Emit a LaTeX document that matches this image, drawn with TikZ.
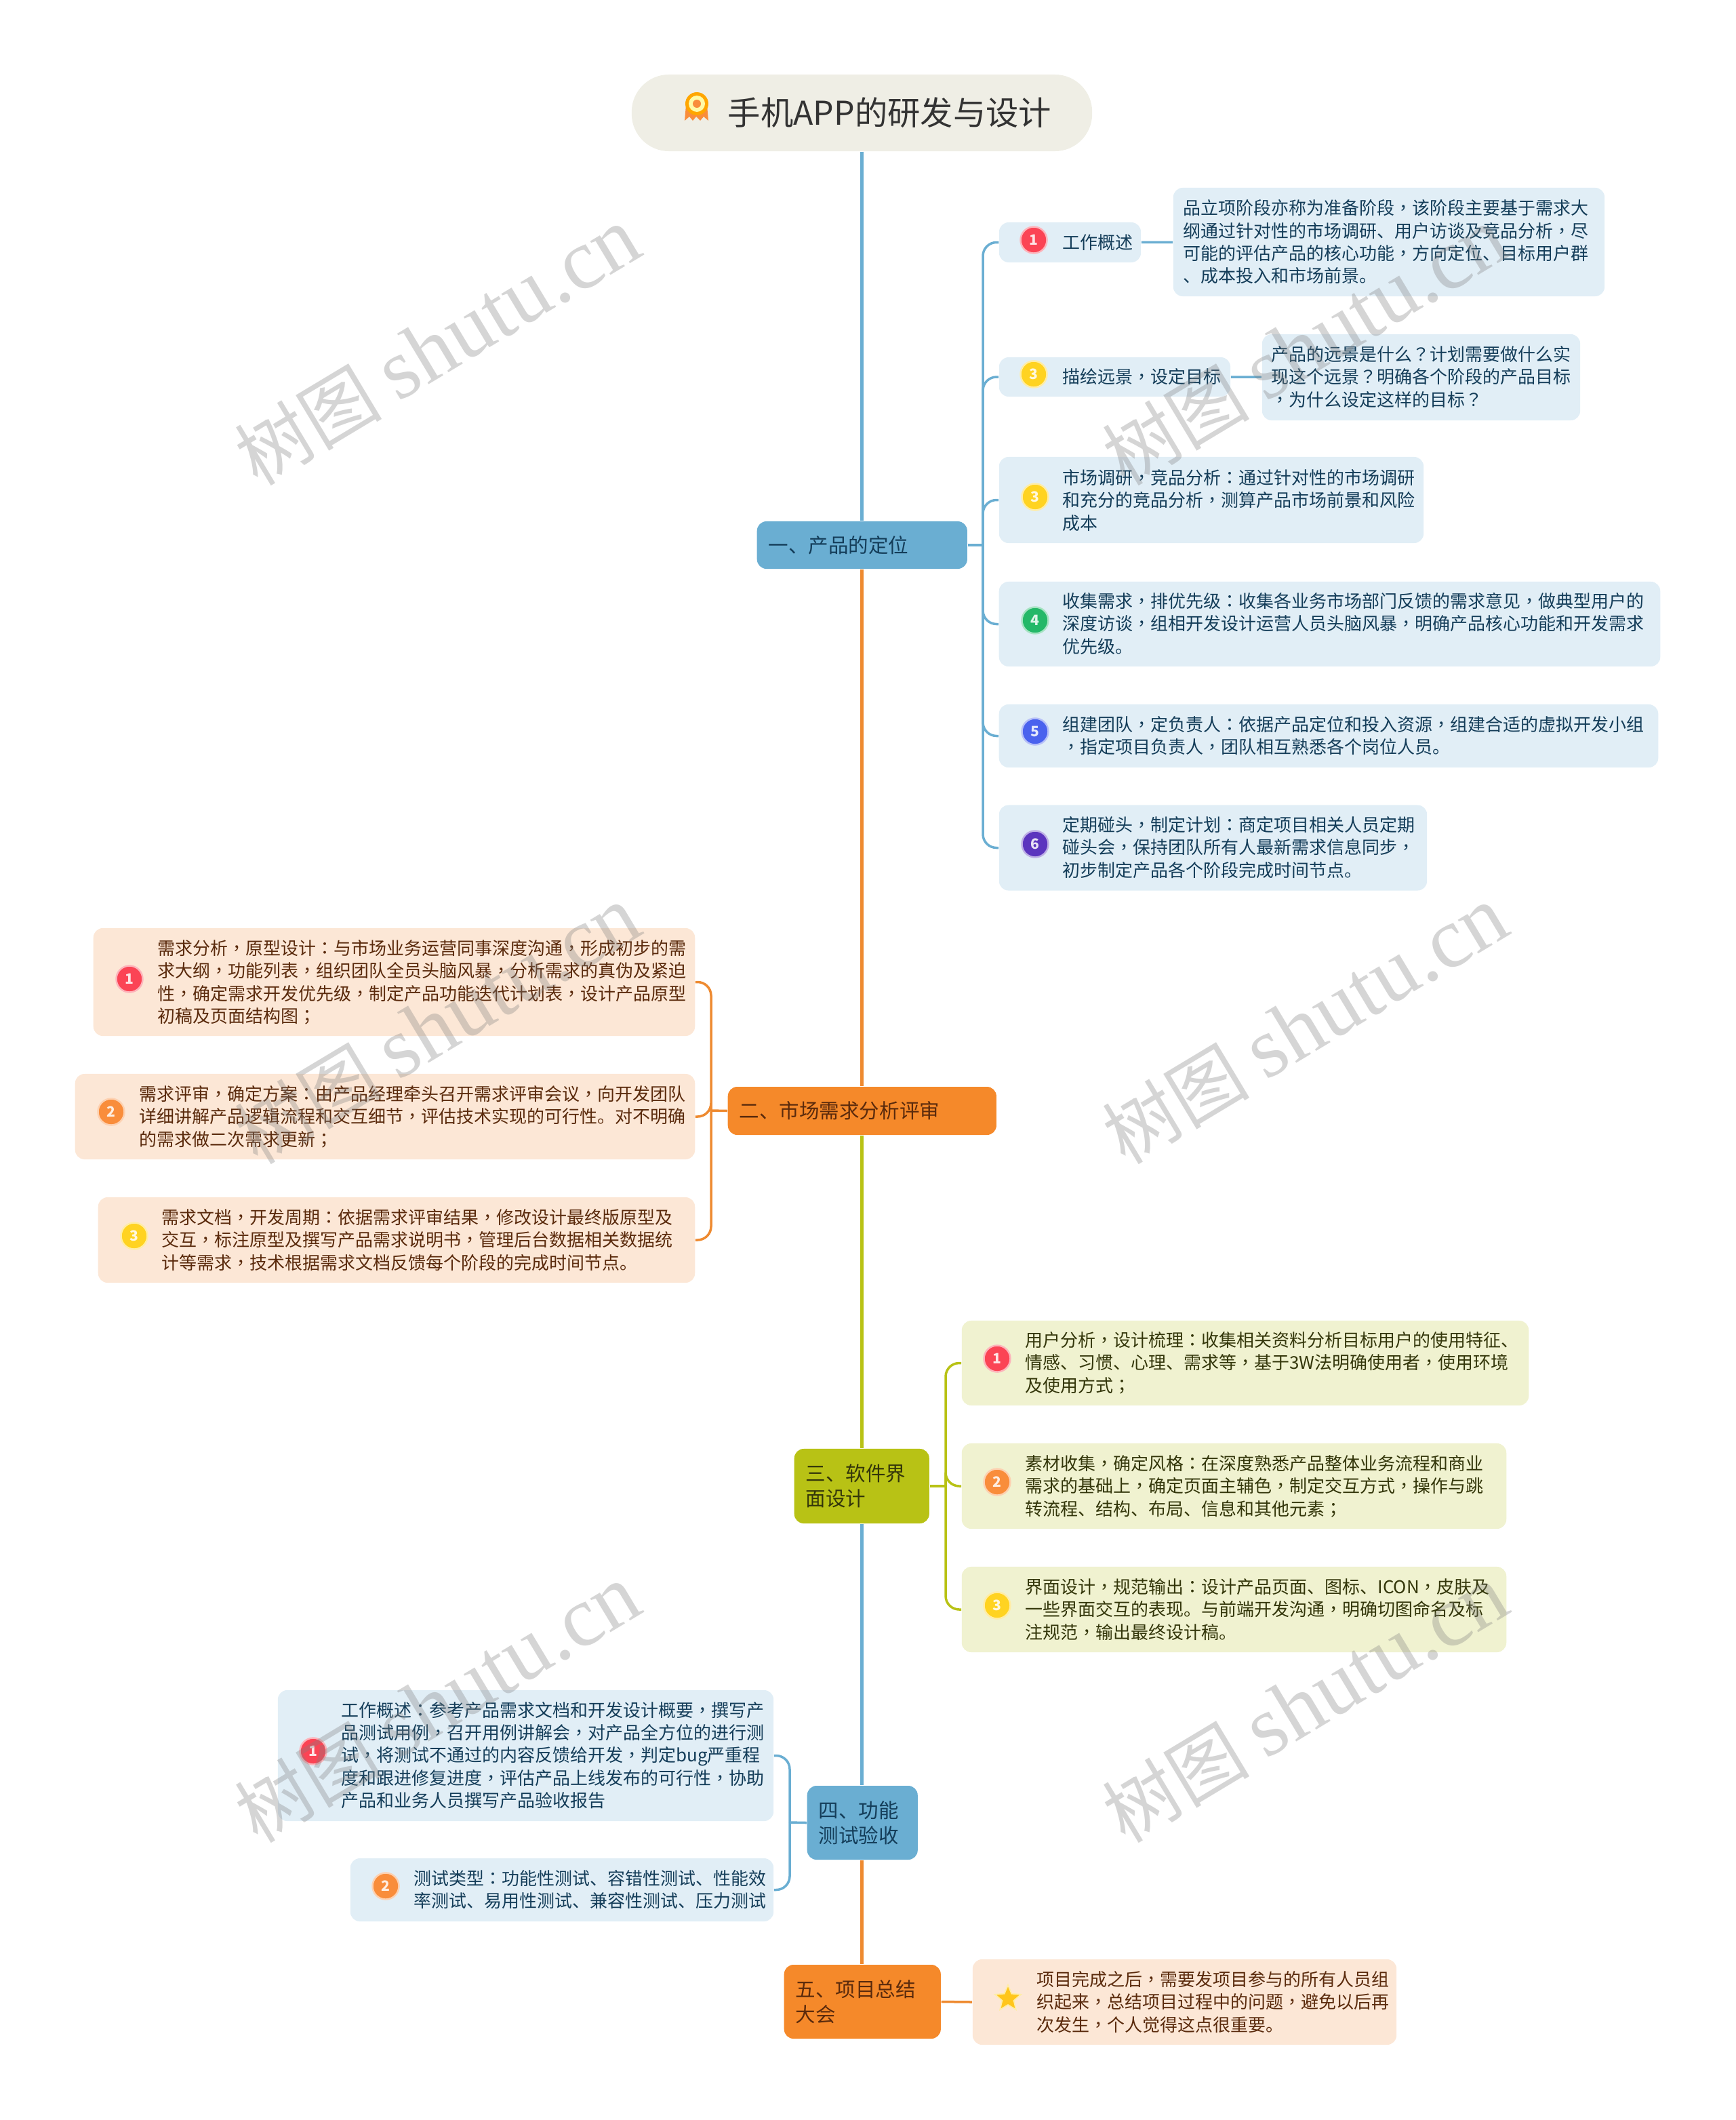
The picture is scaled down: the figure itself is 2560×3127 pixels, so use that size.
\documentclass[tikz,border=0pt]{standalone}
\usepackage{fontspec}
\setmainfont{Noto Sans CJK SC}
\newfontfamily\punctfont{Noto Sans CJK TC}
\newfontfamily\sitefont{Liberation Serif}
\catcode`，=\active \def，{{\punctfont\char"FF0C }}
\catcode`：=\active \def：{{\punctfont\char"FF1A }}
\catcode`？=\active \def？{{\punctfont\char"FF1F }}
\catcode`；=\active \def；{{\punctfont\char"FF1B }}
\usetikzlibrary{positioning, shapes.geometric}

\definecolor{titlefill}{HTML}{EFEEE5}
\definecolor{blueline}{HTML}{6AAED2}
\definecolor{orangeline}{HTML}{EE8A30}
\definecolor{oliveline}{HTML}{B8C215}
\definecolor{bluefill}{HTML}{6AAED2}
\definecolor{orangefill}{HTML}{F5892A}
\definecolor{olivefill}{HTML}{B8C215}
\definecolor{bluecard}{HTML}{E1EEF6}
\definecolor{orangecard}{HTML}{FCE7D6}
\definecolor{olivecard}{HTML}{F0F2D0}
\definecolor{bluetext}{HTML}{143D59}
\definecolor{orangetext}{HTML}{5A2A0C}
\definecolor{olivetext}{HTML}{33360A}
\definecolor{numred}{HTML}{FB4455}
\definecolor{numorange}{HTML}{F98D3B}
\definecolor{numyellow}{HTML}{FFD321}
\definecolor{numgreen}{HTML}{24B868}
\definecolor{numblue}{HTML}{4A62EE}
\definecolor{numpurple}{HTML}{5B35BE}

\begin{document}
\begin{tikzpicture}[
    x=0.01cm, y=-0.01cm,
    title/.style={rectangle, rounded corners=0.55cm, fill=titlefill, minimum width=6.79cm, minimum height=1.13cm},
    branch/.style={rectangle, rounded corners=0.14cm, anchor=west, align=left, inner xsep=0.17cm, inner ysep=0pt, font=\fontsize{8.4pt}{10.6pt}\selectfont},
    card/.style={rectangle, rounded corners=0.14cm},
    txt/.style={anchor=west, align=left, inner sep=0pt, font=\fontsize{7.39pt}{9.5pt}\selectfont},
    num/.style={circle, minimum size=0.39cm, inner sep=0pt, fill=#1, draw=#1!40, line width=0.7pt, text=white!85!#1, font=\fontsize{6pt}{7pt}\selectfont\bfseries},
    trunk/.style={line width=0.05cm},
    elbow/.style={line width=0.035cm, rounded corners=0.2cm},
    site/.style={text=gray, opacity=0.33, rotate=31, inner sep=0pt, font=\fontsize{31pt}{35pt}\selectfont}
]
\useasboundingbox (0,0) rectangle (2560,3127);

% Title
\node[title] (root) at (1271.5, 166.5) {};
\node[anchor=west, inner sep=0pt, text=black!80, font=\fontsize{13.75pt}{16pt}\selectfont] (roottxt) at (1073, 166) {手机APP的研发与设计};

% Title medal
\fill[numorange] (1012, 155) -- (1010, 178) -- (1017, 172) -- (1022, 178) -- (1027, 172) -- (1033, 178) -- (1038, 172) -- (1045, 178) -- (1043, 155) -- cycle;
\fill[orange!70!yellow] (1028, 153) circle (17);
\fill[yellow!35!white] (1028, 153) circle (12);
\fill[numorange] (1028, 153) circle (6);

% Branches
\node[branch, fill=bluefill, text=bluetext, text width=2.76cm, minimum height=0.70cm] (b1) at (1116, 804) {一、产品的定位};
\node[branch, fill=orangefill, text=orangetext, text width=3.62cm, minimum height=0.71cm] (b2) at (1073, 1638.5) {二、市场需求分析评审};
\node[branch, fill=olivefill, text=olivetext, text width=1.65cm, minimum height=1.10cm] (b3) at (1171, 2192) {三、软件界\\面设计};
\node[branch, fill=bluefill, text=bluetext, text width=1.29cm, minimum height=1.09cm] (b4) at (1190, 2688.5) {四、功能\\测试验收};
\node[branch, fill=orangefill, text=orangetext, text width=1.97cm, minimum height=1.09cm] (b5) at (1156, 2952.5) {五、项目总结\\大会};

% Main line
\draw[trunk, blueline] (root) -- (b1.north -| root);
\draw[trunk, orangeline] (b1.south -| root) -- (b2.north -| root);
\draw[trunk, oliveline] (b2.south -| root) -- (b3.north -| root);
\draw[trunk, blueline] (b3.south -| root) -- (b4.north -| root);
\draw[trunk, orangeline] (b4.south -| root) -- (b5.north -| root);

% Cards of the first branch
\node[card, fill=bluecard, minimum width=2.09cm, minimum height=0.59cm] (c1) at (1578.5, 357.5) {};
\node[txt, text=bluetext] (c1txt) at (1567, 358) {工作概述};
\node[num=numred] (c1num) at (1525, 354) {1};
\node[card, fill=bluecard, minimum width=6.36cm, minimum height=1.60cm] (c1d) at (2049, 357) {};
\node[txt, text=bluetext] (c1dtxt) at (1745, 357) {品立项阶段亦称为准备阶段，该阶段主要基于需求大\\纲通过针对性的市场调研、用户访谈及竞品分析，尽\\可能的评估产品的核心功能，方向定位、目标用户群\\、成本投入和市场前景。};

\node[card, fill=bluecard, minimum width=3.41cm, minimum height=0.58cm] (c2) at (1644.5, 556) {};
\node[txt, text=bluetext] (c2txt) at (1567, 556) {描绘远景，设定目标};
\node[num=numyellow] (c2num) at (1525, 552) {3};
\node[card, fill=bluecard, minimum width=4.69cm, minimum height=1.27cm] (c2d) at (2096.5, 556.5) {};
\node[txt, text=bluetext] (c2dtxt) at (1875, 556) {产品的远景是什么？计划需要做什么实\\现这个远景？明确各个阶段的产品目标\\，为什么设定这样的目标？};

\node[card, fill=bluecard, minimum width=6.26cm, minimum height=1.27cm] (c3) at (1787, 737.5) {};
\node[txt, text=bluetext] (c3txt) at (1567, 738) {市场调研，竞品分析：通过针对性的市场调研\\和充分的竞品分析，测算产品市场前景和风险\\成本};
\node[num=numyellow] (c3num) at (1527, 733) {3};

\node[card, fill=bluecard, minimum width=9.75cm, minimum height=1.25cm] (c4) at (1961.5, 920.5) {};
\node[txt, text=bluetext] (c4txt) at (1567, 920) {收集需求，排优先级：收集各业务市场部门反馈的需求意见，做典型用户的\\深度访谈，组相开发设计运营人员头脑风暴，明确产品核心功能和开发需求\\优先级。};
\node[num=numgreen] (c4num) at (1527, 915) {4};

\node[card, fill=bluecard, minimum width=9.72cm, minimum height=0.93cm] (c5) at (1960, 1085.5) {};
\node[txt, text=bluetext] (c5txt) at (1567, 1085) {组建团队，定负责人：依据产品定位和投入资源，组建合适的虚拟开发小组\\，指定项目负责人，团队相互熟悉各个岗位人员。};
\node[num=numblue] (c5num) at (1527, 1079) {5};

\node[card, fill=bluecard, minimum width=6.31cm, minimum height=1.26cm] (c6) at (1789.5, 1250.5) {};
\node[txt, text=bluetext] (c6txt) at (1567, 1250) {定期碰头，制定计划：商定项目相关人员定期\\碰头会，保持团队所有人最新需求信息同步，\\初步制定产品各个阶段完成时间节点。};
\node[num=numpurple] (c6num) at (1527, 1245) {6};

% Cards of the second branch
\node[card, fill=orangecard, minimum width=8.87cm, minimum height=1.59cm] (l1) at (581.5, 1448.5) {};
\node[txt, text=orangetext] (l1txt) at (232, 1449) {需求分析，原型设计：与市场业务运营同事深度沟通，形成初步的需\\求大纲，功能列表，组织团队全员头脑风暴，分析需求的真伪及紧迫\\性，确定需求开发优先级，制定产品功能迭代计划表，设计产品原型\\初稿及页面结构图；};
\node[num=numred] (l1num) at (191, 1444) {1};

\node[card, fill=orangecard, minimum width=9.14cm, minimum height=1.26cm] (l2) at (568, 1647) {};
\node[txt, text=orangetext] (l2txt) at (205, 1647) {需求评审，确定方案：由产品经理牵头召开需求评审会议，向开发团队\\详细讲解产品逻辑流程和交互细节，评估技术实现的可行性。对不明确\\的需求做二次需求更新；};
\node[num=numorange] (l2num) at (164, 1640) {2};

\node[card, fill=orangecard, minimum width=8.80cm, minimum height=1.26cm] (l3) at (585, 1829) {};
\node[txt, text=orangetext] (l3txt) at (238, 1829) {需求文档，开发周期：依据需求评审结果，修改设计最终版原型及\\交互，标注原型及撰写产品需求说明书，管理后台数据相关数据统\\计等需求，技术根据需求文档反馈每个阶段的完成时间节点。};
\node[num=numyellow] (l3num) at (198, 1823) {3};

% Cards of the third branch
\node[card, fill=olivecard, minimum width=8.36cm, minimum height=1.25cm] (d1) at (1837, 2010.5) {};
\node[txt, text=olivetext] (d1txt) at (1512, 2010) {用户分析，设计梳理：收集相关资料分析目标用户的使用特征、\\情感、习惯、心理、需求等，基于3W法明确使用者，使用环境\\及使用方式；};
\node[num=numred] (d1num) at (1471, 2004) {1};

\node[card, fill=olivecard, minimum width=8.03cm, minimum height=1.26cm] (d2) at (1820.5, 2192) {};
\node[txt, text=olivetext] (d2txt) at (1512, 2192) {素材收集，确定风格：在深度熟悉产品整体业务流程和商业\\需求的基础上，确定页面主辅色，制定交互方式，操作与跳\\转流程、结构、布局、信息和其他元素；};
\node[num=numorange] (d2num) at (1471, 2186) {2};

\node[card, fill=olivecard, minimum width=8.03cm, minimum height=1.26cm] (d3) at (1820.5, 2374) {};
\node[txt, text=olivetext] (d3txt) at (1512, 2374) {界面设计，规范输出：设计产品页面、图标、ICON，皮肤及\\一些界面交互的表现。与前端开发沟通，明确切图命名及标\\注规范，输出最终设计稿。};
\node[num=numyellow] (d3num) at (1471, 2368) {3};

% Cards of the fourth branch
\node[card, fill=bluecard, minimum width=7.31cm, minimum height=1.93cm] (t1) at (775.5, 2589.5) {};
\node[txt, text=bluetext] (t1txt) at (503, 2589) {工作概述：参考产品需求文档和开发设计概要，撰写产\\品测试用例，召开用例讲解会，对产品全方位的进行测\\试，将测试不通过的内容反馈给开发，判定bug严重程\\度和跟进修复进度，评估产品上线发布的可行性，协助\\产品和业务人员撰写产品验收报告};
\node[num=numred] (t1num) at (462, 2583) {1};

\node[card, fill=bluecard, minimum width=6.24cm, minimum height=0.93cm] (t2) at (829, 2787.5) {};
\node[txt, text=bluetext] (t2txt) at (610, 2787) {测试类型：功能性测试、容错性测试、性能效\\率测试、易用性测试、兼容性测试、压力测试};
\node[num=numorange] (t2num) at (569, 2782) {2};

% Card of the fifth branch
\node[card, fill=orangecard, minimum width=6.25cm, minimum height=1.26cm] (f1) at (1747.5, 2953) {};
\node[txt, text=orangetext] (f1txt) at (1529, 2953) {项目完成之后，需要发项目参与的所有人员组\\织起来，总结项目过程中的问题，避免以后再\\次发生，个人觉得这点很重要。};
\node[star, star points=5, star point ratio=2.2, fill=numyellow!85!orange, draw=numyellow!40, line width=0.5pt, minimum size=0.40cm, inner sep=0pt] (f1star) at (1487, 2948) {};

% Connectors
\coordinate (b1hub) at (1450, 804);
\coordinate (b2hub) at (1049, 1638);
\coordinate (b3hub) at (1395, 2192);
\coordinate (b4hub) at (1165, 2688);

\draw[elbow, blueline] (b1.east) -- (b1hub);
\foreach \n in {c1, c2, c3, c4, c5, c6}
    \draw[elbow, blueline] (b1hub) |- (\n.west);
\draw[elbow, blueline] (c1) -- (c1d);
\draw[elbow, blueline] (c2) -- (c2d);

\draw[elbow, orangeline] (b2.west) -- (b2hub);
\foreach \n in {l1, l2, l3}
    \draw[elbow, orangeline] (b2hub) |- (\n.east);

\draw[elbow, oliveline] (b3.east) -- (b3hub);
\foreach \n in {d1, d2, d3}
    \draw[elbow, oliveline] (b3hub) |- (\n.west);

\draw[elbow, blueline] (b4.west) -- (b4hub);
\foreach \n in {t1, t2}
    \draw[elbow, blueline] (b4hub) |- (\n.east);

\draw[elbow, orangeline] (b5.east) -- (f1.west);

% Site marks
\foreach \mx/\my in {645/511, 1925/511, 645/1512, 1925/1512, 645/2513, 1925/2513}
    \node[site] at (\mx, \my) {树图 {\sitefont\fontsize{36pt}{40pt}\selectfont shutu.cn}};

\end{tikzpicture}
\end{document}
